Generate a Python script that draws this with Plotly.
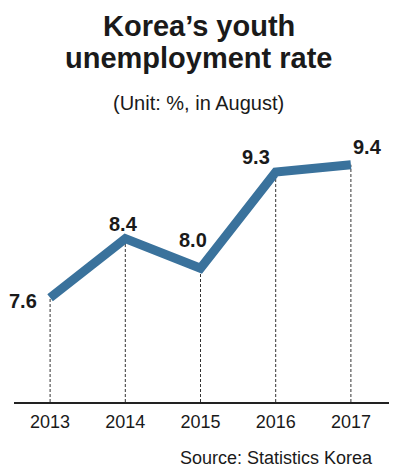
import plotly.graph_objects as go

years = [2013, 2014, 2015, 2016, 2017]
rates = [7.6, 8.4, 8.0, 9.3, 9.4]
rate_labels = ["7.6", "8.4", "8.0", "9.3", "9.4"]
tick_labels = ["2013", "2014", "2015", "2016", "2017"]

# label offsets in px (style only)
label_dx = [-27, -2, -8, -20, 17]
label_dy = [-3, 15, 28, 15, 18]

Y_MIN, Y_MAX = 6.19, 9.87
LINE_COLOR = "#3a729c"
TEXT = "#1a1a1a"
FONT = "Liberation Sans, Arial, Helvetica, sans-serif"

# the page body has an 8px margin; lay out in page pixels and offset
OFF = 8
W, H = 397 - OFF, 473 - OFF
PLOT_L, PLOT_R, PLOT_T, PLOT_B = 14, 390, 130, 402  # page px
ml, mt = PLOT_L - OFF, PLOT_T - OFF
mr = W - (PLOT_R - OFF)
mb = H - (PLOT_B - OFF)
plot_w = PLOT_R - PLOT_L
plot_h = PLOT_B - PLOT_T


def px_x(x):
    return (x - PLOT_L) / plot_w


def px_y(y):
    return (PLOT_B - y) / plot_h


fig = go.Figure()

# dashed drop lines
dx, dy = [], []
for x, y in zip(years, rates):
    dx += [x, x, None]
    dy += [Y_MIN, y, None]
fig.add_trace(go.Scatter(x=dx, y=dy, mode="lines",
                         line=dict(color="#333333", width=1, dash="3px,2px"),
                         hoverinfo="skip", showlegend=False))

fig.add_trace(go.Scatter(x=years, y=rates, mode="lines",
                         line=dict(color=LINE_COLOR, width=9),
                         showlegend=False))

for x, y, t, ox, oy in zip(years, rates, rate_labels, label_dx, label_dy):
    fig.add_annotation(x=x, y=y, text=f"<b>{t}</b>", showarrow=False,
                       xshift=ox, yshift=oy,
                       font=dict(family=FONT, size=20, color=TEXT))

titles = [
    dict(text="<b>Korea’s youth</b>", y=26, size=29),
    dict(text="<b>unemployment rate</b>", y=58, size=29),
    dict(text="(Unit: %, in August)", y=103, size=20),
]
for a in titles:
    fig.add_annotation(xref="paper", yref="paper",
                       x=px_x(198.5), y=px_y(a["y"]),
                       yanchor="middle", xanchor="center",
                       text=a["text"], showarrow=False,
                       font=dict(family=FONT, size=a["size"], color=TEXT))

fig.add_annotation(xref="paper", yref="paper",
                   x=px_x(375), y=px_y(458),
                   xanchor="right", yanchor="middle",
                   text="Source: Statistics Korea", showarrow=False,
                   font=dict(family=FONT, size=18, color=TEXT))

fig.update_layout(
    width=W, height=H,
    margin=dict(l=ml, r=mr, t=mt, b=mb, autoexpand=False),
    paper_bgcolor="white", plot_bgcolor="white",
    xaxis=dict(range=[2012.52, 2017.52], tickvals=years, ticktext=tick_labels,
               showgrid=False, zeroline=False, showline=True,
               linecolor="#222222", linewidth=1.5, ticks="",
               ticklabelstandoff=3,
               tickfont=dict(family=FONT, size=18, color=TEXT)),
    yaxis=dict(range=[Y_MIN, Y_MAX], visible=False, showgrid=False, zeroline=False),
)

fig.write_html("out.html")
